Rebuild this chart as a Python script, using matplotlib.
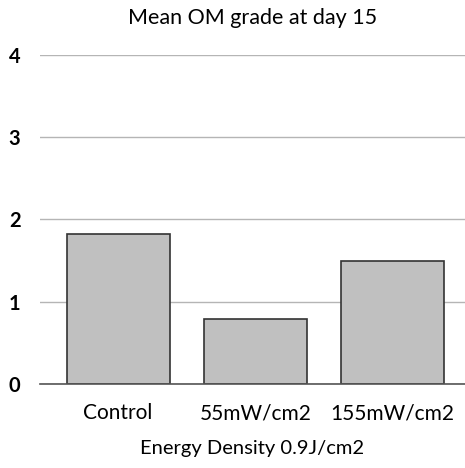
import matplotlib
matplotlib.use("Agg")
import matplotlib.pyplot as plt

categories = ["Control", "55mW/cm2", "155mW/cm2"]
grades = [1.82, 0.79, 1.49]
y_ticks = [0, 1, 2, 3, 4]

plt.rcParams['font.family'] = ['Lato', 'DejaVu Sans']

fig = plt.figure(figsize=(4.65, 4.68), dpi=100)
ax = fig.add_axes([0.086, 0.1795, 0.914, 0.703])

x = list(range(len(categories)))
ax.bar(x, grades, width=0.75, color='#c0c0c0', edgecolor='#333333', linewidth=1.2, zorder=3)

ax.set_xlim(-0.57, 2.53)
ax.set_ylim(0, 4)
ax.set_yticks(y_ticks)
ax.set_yticklabels([str(t) for t in y_ticks], fontsize=14.5, fontweight='bold')
ax.set_xticks(x)
ax.set_xticklabels(categories, fontsize=15)
ax.tick_params(axis='both', length=0)
ax.tick_params(axis='y', pad=14)
ax.tick_params(axis='x', pad=14)

ax.grid(axis='y', color='#b5b5b5', linewidth=1, zorder=0)
for s in ['left', 'right', 'top']:
    ax.spines[s].set_visible(False)
ax.spines['bottom'].set_color('#555555')
ax.spines['bottom'].set_linewidth(1.2)
ax.spines['bottom'].set_zorder(4)

ax.set_title("Mean OM grade at day 15", fontsize=15.5, pad=22)
ax.set_xlabel("Energy Density 0.9J/cm2", fontsize=14.5, labelpad=12)

fig.savefig("out.png", dpi=100)
